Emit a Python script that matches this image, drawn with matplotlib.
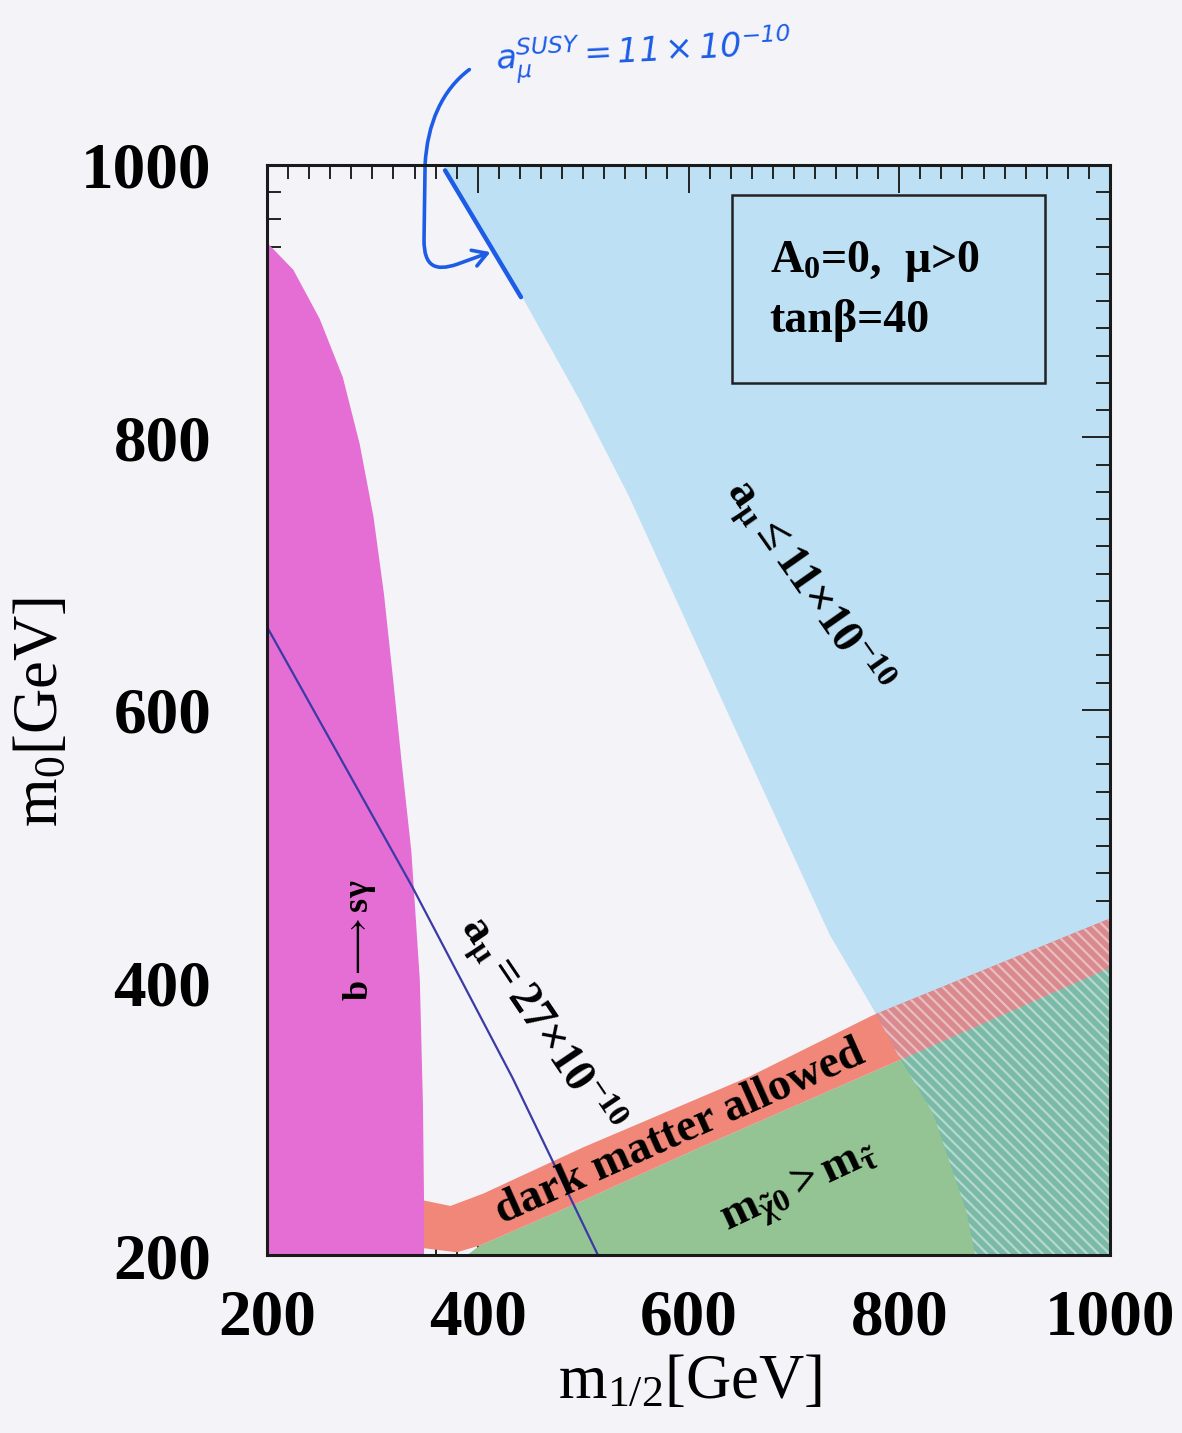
import numpy as np
import matplotlib
matplotlib.use('Agg')
from matplotlib import pyplot as plt
from matplotlib.patches import Polygon, Rectangle, FancyArrowPatch
from matplotlib.path import Path
from matplotlib.ticker import MultipleLocator

plt.rcParams['font.family'] = ['Liberation Serif', 'DejaVu Serif']
plt.rcParams['mathtext.fontset'] = 'custom'
plt.rcParams['mathtext.rm'] = 'Liberation Serif:bold'
plt.rcParams['mathtext.it'] = 'Liberation Serif:bold'
plt.rcParams['mathtext.bf'] = 'Liberation Serif:bold'
plt.rcParams['hatch.linewidth'] = 1.6

# b -> s gamma excluded region (right edge), m_1/2 vs m_0
bsg_x = [200, 225, 250, 272, 288, 301, 311, 320, 328, 337, 345, 348, 349, 349]
bsg_y = [943, 923, 887, 844, 795, 742, 685, 620, 560, 496, 402, 310, 240, 200]

# a_mu <= 11e-10 boundary (region to the right is shaded)
amu11_x = [367, 443, 497, 544, 639, 734, 775, 800, 832, 864, 872]
amu11_y = [1000, 902, 827, 756, 595, 435, 381, 345, 304, 231, 200]

# dark matter allowed band
dm_top_x = [349, 374, 405, 500, 658, 775, 1000]
dm_top_y = [240, 236, 245, 279, 331, 376, 447]
dm_bot_x = [349, 380, 402, 500, 611, 800, 1000]
dm_bot_y = [205, 202, 207, 240, 279, 343, 411]

# stau LSP region (top edge)
stau_x = [390, 402, 500, 611, 800, 1000]
stau_y = [200, 207, 240, 279, 343, 411]

# a_mu = 27e-10 contour
amu27_x = [200, 338, 433, 514]
amu27_y = [661, 470, 330, 200]

# hand-drawn annotation
hand_line_x = [369, 441]
hand_line_y = [996, 903]
hand_arrow_x = [392, 366, 352, 350, 349, 349, 360, 380, 412]
hand_arrow_y = [1070, 1055, 1030, 1000, 945, 925, 922, 927, 936]

xticks = [200, 400, 600, 800, 1000]
yticks = [200, 400, 600, 800, 1000]

bg = '#f4f3f8'
c_pink = '#e46ed3'
c_blue = '#bde0f5'
c_red = '#f08778'
c_green = '#94c493'
c_teal = '#7cbaa8'
c_redblue = '#d98a8f'
c_hand = '#1c5ce6'

fig = plt.figure(figsize=(11.82, 14.33), dpi=100, facecolor=bg)
ax = fig.add_axes([0.2259, 0.1242, 0.7132, 0.7607], facecolor=bg)
ax.set_xlim(200, 1000)
ax.set_ylim(200, 1000)

# blue region
blue_pts = list(zip(amu11_x, amu11_y)) + [(1000, 200), (1000, 1000)]
ax.add_patch(Polygon(blue_pts, closed=True, fc=c_blue, ec='none', zorder=1))
blue_clip = Polygon(blue_pts, closed=True, transform=ax.transData)

# green (stau LSP)
green_pts = list(zip(stau_x, stau_y)) + [(1000, 200)]
ax.add_patch(Polygon(green_pts, closed=True, fc=c_green, ec='none', zorder=2))
p = Polygon(green_pts, closed=True, fc=c_teal, ec='none', zorder=2.1)
ax.add_patch(p)
p.set_clip_path(blue_clip)

# dark matter band
dm_pts = list(zip(dm_top_x, dm_top_y)) + list(zip(dm_bot_x[::-1], dm_bot_y[::-1]))
ax.add_patch(Polygon(dm_pts, closed=True, fc=c_red, ec='none', zorder=3))
p = Polygon(dm_pts, closed=True, fc=c_redblue, ec='none', zorder=3.1)
ax.add_patch(p)
p.set_clip_path(blue_clip)

# white hatching where blue overlaps band / stau region
below_pts = list(zip(dm_top_x, dm_top_y)) + [(1000, 200), (349, 200)]
below_clip = Polygon(below_pts, closed=True, transform=ax.transData)
h = Polygon(blue_pts, closed=True, fc='none', ec=(1, 1, 1, 0.45), lw=0,
            hatch='\\\\\\', zorder=3.5)
ax.add_patch(h)
h.set_clip_path(below_clip)

# b -> s gamma
bsg_pts = [(200, 200)] + list(zip(bsg_x, bsg_y))
ax.add_patch(Polygon(bsg_pts, closed=True, fc=c_pink, ec='none', zorder=4))

# a_mu = 27e-10 line
ax.plot(amu27_x, amu27_y, color='#3b3aa6', lw=1.6, zorder=5)

# parameter box
ax.add_patch(Rectangle((641, 840), 297, 138, fc='none', ec='#222222', lw=1.8, zorder=6))
ax.text(677, 929, r'A$_{\mathregular{0}}$=0,  μ>0', fontsize=33, fontweight='bold',
        va='center', ha='left', zorder=7)
ax.text(677, 886, 'tanβ=40', fontsize=33, fontweight='bold',
        va='center', ha='left', zorder=7)

# region labels
ax.text(288, 431, r'b$\longrightarrow$sγ', fontsize=26, fontweight='bold', rotation=90,
        ha='center', va='center', zorder=7)
ax.text(459, 369, r'$\mathregular{a_{\mu}{=}27{\times}10^{-10}}$', fontsize=33,
        fontweight='bold', rotation=-56, rotation_mode='anchor',
        ha='center', va='center', zorder=7)
ax.text(713, 690, r'$\mathregular{a_{\mu}{\leq}11{\times}10^{-10}}$', fontsize=33,
        fontweight='bold', rotation=-55, rotation_mode='anchor',
        ha='center', va='center', zorder=7)
ax.text(592, 290, 'dark matter allowed', fontsize=33, fontweight='bold',
        rotation=24, rotation_mode='anchor', ha='center', va='center', zorder=7)
ax.text(706, 248, r'$\mathregular{m_{\tilde{\chi}0}{>}m_{\tilde{\tau}}}$', fontsize=33,
        fontweight='bold', rotation=25, rotation_mode='anchor',
        ha='center', va='center', zorder=7)

# hand-drawn annotation
ax.plot(hand_line_x, hand_line_y, color=c_hand, lw=3.2, solid_capstyle='round',
        zorder=8, clip_on=False)
verts = list(zip(hand_arrow_x, hand_arrow_y))
codes = [Path.MOVETO, Path.CURVE4, Path.CURVE4, Path.CURVE4, Path.LINETO,
         Path.CURVE4, Path.CURVE4, Path.CURVE4, Path.LINETO]
arr = FancyArrowPatch(path=Path(verts, codes), arrowstyle='->,head_length=10,head_width=6',
                      color=c_hand, lw=2.6, transform=ax.transData, zorder=8,
                      clip_on=False)
ax.add_patch(arr)
ax.text(416, 1081, r'$\mathregular{a_{\mu}^{SUSY} = 11\times10^{-10}}$', fontsize=24,
        family='DejaVu Sans', style='italic', color=c_hand, rotation=3,
        ha='left', va='center', clip_on=False, zorder=8)

# axes styling
ax.set_xticks(xticks)
ax.set_yticks(yticks)
ax.xaxis.set_minor_locator(MultipleLocator(20))
ax.yaxis.set_minor_locator(MultipleLocator(20))
ax.tick_params(which='both', direction='in', top=True, right=True, width=1.4,
               color='#222222', zorder=9)
ax.tick_params(which='major', length=20)
ax.tick_params(which='minor', length=10)
ax.tick_params(axis='x', which='major', pad=24, labelsize=47)
ax.tick_params(axis='y', which='major', pad=40, labelsize=47)
for lbl in ax.get_xticklabels() + ax.get_yticklabels():
    lbl.set_fontweight('bold')
for s in ax.spines.values():
    s.set_linewidth(2.2)
    s.set_color('#1a1a1a')
    s.set_zorder(10)

ax.set_xlabel(r'm$_{\mathregular{1/2}}$[GeV]', fontsize=45)
ax.set_ylabel(r'm$_{\mathregular{0}}$[GeV]', fontsize=45)
ax.xaxis.set_label_coords(0.502, -0.091)
ax.yaxis.set_label_coords(-0.232, 0.498)

fig.savefig('out.png', dpi=100, facecolor=bg)
